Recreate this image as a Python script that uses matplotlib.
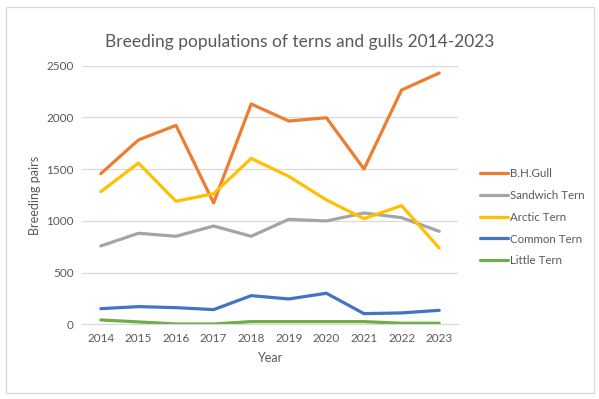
import matplotlib.pyplot as plt
from matplotlib.patches import Rectangle

plt.rcParams['font.family'] = ['Lato', 'DejaVu Sans']

# data
years = ['2014', '2015', '2016', '2017', '2018', '2019', '2020', '2021', '2022', '2023']
bh_gull = [1456, 1782, 1923, 1173, 2130, 1965, 1997, 1501, 2265, 2429]
sandwich = [757, 880, 851, 950, 851, 1015, 999, 1076, 1031, 899]
arctic = [1282, 1559, 1189, 1263, 1604, 1430, 1202, 1021, 1147, 738]
common = [151, 171, 161, 142, 277, 245, 300, 103, 110, 135]
little = [42, 23, 3, 3, 26, 26, 26, 26, 10, 10]

series = [
    ('B.H.Gull', bh_gull, '#ED7D31'),
    ('Sandwich Tern', sandwich, '#A5A5A5'),
    ('Arctic Tern', arctic, '#FFC000'),
    ('Common Tern', common, '#4472C4'),
    ('Little Tern', little, '#70AD47'),
]

fig = plt.figure(figsize=(5.99, 3.99), dpi=100)
ax = fig.add_axes([82 / 599, 74.7 / 399, 376 / 599, 258.6 / 399])

x = range(len(years))
for name, vals, col in series:
    ax.plot(x, vals, color=col, linewidth=2.3, label=name, solid_capstyle='round')

ax.set_xlim(-0.5, len(years) - 0.5)
ax.set_ylim(0, 2500)
ax.set_yticks(range(0, 2501, 500))
ax.set_xticks(list(x))
ax.set_xticklabels(years)
ax.grid(axis='y', color='#D9D9D9', linewidth=0.9)
ax.set_axisbelow(True)
for s in ['top', 'right', 'left']:
    ax.spines[s].set_visible(False)
ax.spines['bottom'].set_color('#D9D9D9')
ax.tick_params(length=0, labelsize=8.5, colors='#595959', pad=6)

ax.set_xlabel('Year', fontsize=9, color='#595959', labelpad=6)
ax.set_ylabel('Breeding pairs', fontsize=9, color='#595959', labelpad=4)
fig.text(0.5, 0.895, 'Breeding populations of terns and gulls 2014-2023',
         ha='center', va='center', fontsize=12.5, color='#595959')

leg = ax.legend(loc='center left', bbox_to_anchor=(470 / 599, 0.456), bbox_transform=fig.transFigure,
                frameon=False, fontsize=8.3, handlelength=2.4, handletextpad=0.2,
                labelspacing=0.95, labelcolor='#595959')

fig.patches.append(Rectangle((6 / 599, 6 / 399), 588 / 599, 386 / 399, transform=fig.transFigure,
                             fill=False, edgecolor='#D9D9D9', linewidth=0.9))

fig.savefig('out.png', dpi=100)
